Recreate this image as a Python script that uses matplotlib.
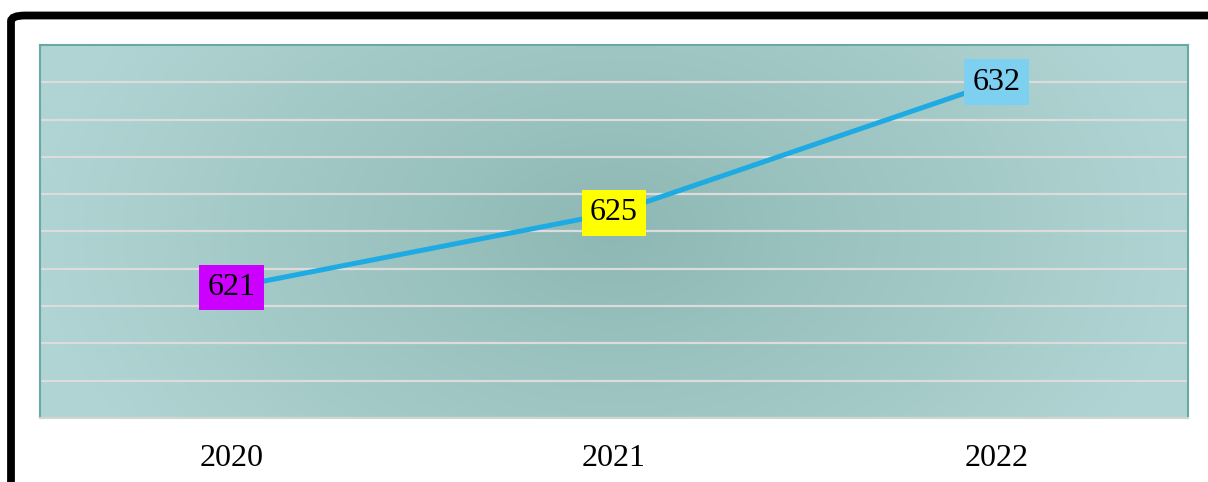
import numpy as np
import matplotlib
matplotlib.use("Agg")
import matplotlib.pyplot as plt
from matplotlib.patches import FancyBboxPatch
from matplotlib.colors import LinearSegmentedColormap

years = ["2020", "2021", "2022"]
values = [621, 625, 632]
label_colors = ["#cc00ff", "#ffff00", "#7dd0f0"]
y_min, y_max, y_step = 614, 634, 2

W, H, DPI = 1208, 482, 100
fig = plt.figure(figsize=(W / DPI, H / DPI), dpi=DPI)
fig.patch.set_facecolor("white")

# outer black frame (extends beyond right/bottom edges)
frame = FancyBboxPatch((11 / W, -0.2), 1.3, (H - 15.5) / H + 0.2,
                       boxstyle="round,pad=0,rounding_size=0.012",
                       transform=fig.transFigure, fill=False,
                       edgecolor="black", linewidth=5.6, zorder=0)
fig.patches.append(frame)

ax = fig.add_axes([40 / W, 1 - 418 / H, (1188 - 40) / W, (418 - 45) / H])

x = np.arange(len(years))
ax.set_xlim(-0.5, len(years) - 0.5)
ax.set_ylim(y_min, y_max)

# radial gradient background
nx, ny = 400, 200
gx = np.linspace(-1, 1, nx)
gy = np.linspace(-1, 1, ny)
GX, GY = np.meshgrid(gx, gy)
R = np.clip(np.sqrt(GX ** 2 * 1.0 + GY ** 2 * 0.25), 0, 1)
cmap = LinearSegmentedColormap.from_list("bg", ["#8eb8b4", "#b0d4d3"])
ax.imshow(R, cmap=cmap, extent=[-0.5, len(years) - 0.5, y_min, y_max],
          aspect="auto", zorder=0, vmin=0, vmax=1, interpolation="bilinear")

ax.set_yticks(np.arange(y_min, y_max + 1, y_step))
ax.yaxis.grid(True, color="#dcdcdc", linewidth=1.6, zorder=1)
ax.set_axisbelow(True)
for gl in ax.get_ygridlines():
    gl.set_zorder(1)
ax.tick_params(axis="y", left=False, labelleft=False)
ax.tick_params(axis="x", bottom=False, pad=15)
ax.set_xticks(x)
ax.set_xticklabels(years, fontfamily="Liberation Serif", fontsize=23)

for side in ["left", "top", "right"]:
    ax.spines[side].set_color("#68a9a2")
    ax.spines[side].set_linewidth(1.5)
ax.spines["bottom"].set_color("#d0d4d3")
ax.spines["bottom"].set_linewidth(1.5)

ax.plot(x, values, color="#1eabe3", linewidth=3.6, zorder=3,
        solid_capstyle="butt")

for xi, v, c in zip(x, values, label_colors):
    ax.text(xi, v, str(v), ha="center", va="center",
            fontfamily="Liberation Serif", fontsize=23, color="black",
            zorder=5,
            bbox=dict(boxstyle="square,pad=0.26", facecolor=c,
                      edgecolor="none"))

fig.savefig("out.png", dpi=DPI)
